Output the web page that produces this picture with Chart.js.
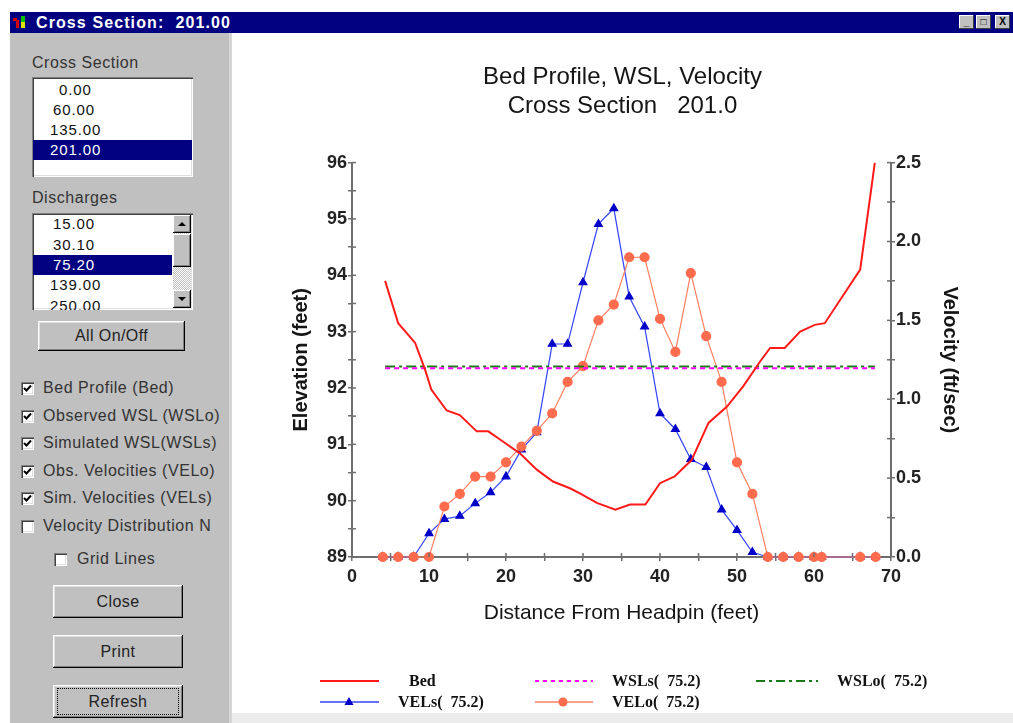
<!DOCTYPE html>
<html>
<head>
<meta charset="utf-8">
<title>Cross Section: 201.00</title>
<script src="https://cdn.jsdelivr.net/npm/chart.js@4.4.0/dist/chart.umd.min.js"></script>
<style>
body { margin:0; width:1013px; height:723px; overflow:hidden; background:#fff; position:relative; font-family:Arial, "Liberation Sans", sans-serif; }
.abs { position:absolute; }
#titlebar { left:10px; top:12px; width:1003px; height:21px; background:#000080; }
#titletext { left:36px; top:13px; color:#fff; font:bold 16px Arial; white-space:pre; line-height:20px; letter-spacing:1.1px; }
.tbtn { top:15px; width:15px; height:14px; background:#c0c0c0; box-shadow:inset -1px -1px #404040, inset 1px 1px #fff; font:bold 10px Arial; text-align:center; line-height:14px; color:#000; }
#panel { left:10px; top:33px; width:219px; height:690px; background:#c0c0c0; }
#edge { left:229px; top:33px; width:3px; height:690px; background:#d6d6d6; }
.lbl { font-size:16px; color:#333; white-space:pre; line-height:18px; letter-spacing:0.55px; }
.listbox { background:#fff; box-shadow:inset 1px 1px #808080, inset 2px 2px #404040, inset -1px -1px #fff, inset -2px -2px #dfdfdf; overflow:hidden; }
.row { position:absolute; height:20px; line-height:20px; font-size:15px; color:#111; white-space:pre; letter-spacing:0.9px; }
.sel { background:#000080; color:#fff; }
.btn { background:#c0c0c0; box-shadow:inset -1px -1px #000, inset 1px 1px #fff, inset -2px -2px #808080, inset 2px 2px #dfdfdf; font-size:16px; text-align:center; color:#222; letter-spacing:0.4px; }
.chk { width:13px; height:13px; background:#fff; box-shadow:inset 1px 1px #808080, inset 2px 2px #404040, inset -1px -1px #fff, inset -2px -2px #dfdfdf; }
.chk svg { position:absolute; left:2px; top:2px; }
.sb { background:#c0c0c0; box-shadow:inset -1px -1px #000, inset 1px 1px #fff, inset -2px -2px #808080; }
.leg { font:bold 16px "Liberation Serif", "Times New Roman", serif; color:#111; white-space:pre; line-height:18px; }
</style>
</head>
<body>

<div id="titlebar" class="abs"></div>
<div class="abs" style="left:13px;top:18px;width:4px;height:3px;background:#d00000"></div>
<div class="abs" style="left:16px;top:20px;width:3px;height:8px;background:#d00000"></div>
<div class="abs" style="left:21px;top:16px;width:4px;height:6px;background:#00c000"></div>
<div class="abs" style="left:21px;top:22px;width:4px;height:6px;background:#e0e000"></div>
<div id="titletext" class="abs">Cross Section:  201.00</div>
<div class="abs tbtn" style="left:959px">_</div>
<div class="abs tbtn" style="left:976px">□</div>
<div class="abs tbtn" style="left:995px">X</div>

<div id="panel" class="abs"></div>
<div id="edge" class="abs"></div>

<div class="abs lbl" style="left:32px;top:54px">Cross Section</div>
<div class="abs listbox" style="left:32px;top:77px;width:161px;height:100px">
  <div class="row" style="left:27px;top:3px">0.00</div>
  <div class="row" style="left:21px;top:23px">60.00</div>
  <div class="row" style="left:18px;top:43px">135.00</div>
  <div class="row sel" style="left:1px;top:63px;width:159px;padding-left:17px;box-sizing:border-box">201.00</div>
</div>

<div class="abs lbl" style="left:32px;top:189px">Discharges</div>
<div class="abs listbox" style="left:32px;top:213px;width:161px;height:97px">
  <div class="row" style="left:21px;top:1px">15.00</div>
  <div class="row" style="left:21px;top:22px">30.10</div>
  <div class="row sel" style="left:1px;top:42px;width:139px;padding-left:20px;box-sizing:border-box">75.20</div>
  <div class="row" style="left:18px;top:62px">139.00</div>
  <div class="row" style="left:18px;top:83px">250.00</div>
  <div class="abs" style="left:141px;top:2px;width:18px;height:93px;background:repeating-conic-gradient(#c0c0c0 0 25%, #fff 0 50%) 0 0/2px 2px"></div>
  <div class="abs sb" style="left:141px;top:2px;width:18px;height:18px"><svg width="18" height="18"><path d="M5 11 L9 7 L13 11 Z" fill="#000"/></svg></div>
  <div class="abs sb" style="left:141px;top:21px;width:18px;height:33px"></div>
  <div class="abs sb" style="left:141px;top:77px;width:18px;height:18px"><svg width="18" height="18"><path d="M5 7 L9 11 L13 7 Z" fill="#000"/></svg></div>
</div>

<div class="abs btn" style="left:38px;top:321px;width:147px;height:30px;line-height:30px">All On/Off</div>

<div class="abs chk" style="left:21px;top:382px"><svg width="9" height="9"><path d="M1 4 L3.5 6.5 L8 1.5" stroke="#000" stroke-width="2" fill="none"/></svg></div>
<div class="abs lbl" style="left:43px;top:379px">Bed Profile (Bed)</div>
<div class="abs chk" style="left:21px;top:410px"><svg width="9" height="9"><path d="M1 4 L3.5 6.5 L8 1.5" stroke="#000" stroke-width="2" fill="none"/></svg></div>
<div class="abs lbl" style="left:43px;top:407px">Observed WSL (WSLo)</div>
<div class="abs chk" style="left:21px;top:437px"><svg width="9" height="9"><path d="M1 4 L3.5 6.5 L8 1.5" stroke="#000" stroke-width="2" fill="none"/></svg></div>
<div class="abs lbl" style="left:43px;top:434px">Simulated WSL(WSLs)</div>
<div class="abs chk" style="left:21px;top:465px"><svg width="9" height="9"><path d="M1 4 L3.5 6.5 L8 1.5" stroke="#000" stroke-width="2" fill="none"/></svg></div>
<div class="abs lbl" style="left:43px;top:462px">Obs. Velocities (VELo)</div>
<div class="abs chk" style="left:21px;top:492px"><svg width="9" height="9"><path d="M1 4 L3.5 6.5 L8 1.5" stroke="#000" stroke-width="2" fill="none"/></svg></div>
<div class="abs lbl" style="left:43px;top:489px">Sim. Velocities (VELs)</div>
<div class="abs chk" style="left:21px;top:520px"></div>
<div class="abs lbl" style="left:43px;top:517px">Velocity Distribution N</div>
<div class="abs chk" style="left:54px;top:553px"></div>
<div class="abs lbl" style="left:77px;top:550px">Grid Lines</div>

<div class="abs btn" style="left:53px;top:585px;width:130px;height:33px;line-height:33px">Close</div>
<div class="abs btn" style="left:53px;top:635px;width:130px;height:33px;line-height:33px">Print</div>
<div class="abs btn" style="left:53px;top:685px;width:130px;height:33px;line-height:33px"><span style="display:inline-block;width:122px;line-height:25px;margin-top:3px;border:1px dotted #000;box-sizing:border-box">Refresh</span></div>

<canvas id="c" width="781" height="679" style="position:absolute;left:232px;top:34px;width:781px;height:679px"></canvas>
<div class="abs" style="left:232px;top:713px;width:781px;height:10px;background:#ececec"></div>

<!-- legend -->
<svg class="abs" style="left:318px;top:674px" width="64" height="14"><line x1="2" y1="7" x2="61" y2="7" stroke="#ff1a1a" stroke-width="2"/></svg>
<div class="abs leg" style="left:409px;top:672px">Bed</div>
<svg class="abs" style="left:533px;top:674px" width="64" height="14"><line x1="2" y1="7" x2="60" y2="7" stroke="#ff00ff" stroke-width="2" stroke-dasharray="4 4"/></svg>
<div class="abs leg" style="left:612px;top:672px">WSLs(  75.2)</div>
<svg class="abs" style="left:754px;top:674px" width="68" height="14"><line x1="2" y1="7" x2="64" y2="7" stroke="#1a7a1a" stroke-width="2" stroke-dasharray="9 4 3 4"/></svg>
<div class="abs leg" style="left:837px;top:672px">WSLo(  75.2)</div>
<svg class="abs" style="left:318px;top:695px" width="64" height="14"><line x1="2" y1="7" x2="61" y2="7" stroke="#3344ff" stroke-width="1.5"/><path d="M31 2 L35.5 10 L26.5 10 Z" fill="#0000c8"/></svg>
<div class="abs leg" style="left:398px;top:693px">VELs(  75.2)</div>
<svg class="abs" style="left:533px;top:695px" width="64" height="14"><line x1="2" y1="7" x2="60" y2="7" stroke="#ff7f60" stroke-width="1.5"/><circle cx="30" cy="7" r="4.5" fill="#ff6b4d"/></svg>
<div class="abs leg" style="left:612px;top:693px">VELo(  75.2)</div>

<script>
// bed profile (distance, elevation)
var bedDist = [4.3, 6.0, 8.2, 9.5, 10.3, 12.3, 14.0, 16.2, 17.7, 19.6, 21.8, 24.0, 26.1, 28.3, 29.6, 31.8, 34.2, 36.1, 38.1, 40.0, 41.9, 44.1, 46.3, 48.7, 50.8, 53.0, 54.3, 56.2, 58.2, 60.1, 61.4, 66.0, 67.9];
var bedElev = [93.9, 93.15, 92.8, 92.32, 91.97, 91.6, 91.52, 91.23, 91.23, 91.05, 90.84, 90.55, 90.34, 90.22, 90.13, 89.96, 89.84, 89.93, 89.93, 90.31, 90.43, 90.72, 91.38, 91.67, 92.03, 92.47, 92.71, 92.71, 93.0, 93.12, 93.15, 94.1, 96.0];

// water surface levels
var wslDist = [4.3, 67.9];
var wslS = [92.35, 92.35];
var wslO = [92.38, 92.38];

// velocities (ft/sec)
var velDist = [4, 6, 8, 10, 12, 14, 16, 18, 20, 22, 24, 26, 28, 30, 32, 34, 36, 38, 40, 42, 44, 46, 48, 50, 52, 54, 56, 58, 60, 61, 66, 68];
var velO = [0, 0, 0, 0, 0.32, 0.40, 0.51, 0.51, 0.60, 0.70, 0.80, 0.91, 1.11, 1.21, 1.50, 1.60, 1.90, 1.90, 1.51, 1.30, 1.80, 1.40, 1.11, 0.60, 0.40, 0, 0, 0, 0, 0, 0, 0];
var velS = [0, 0, 0, 0.15, 0.24, 0.26, 0.34, 0.41, 0.51, 0.68, 0.79, 1.35, 1.35, 1.74, 2.11, 2.21, 1.65, 1.46, 0.91, 0.81, 0.62, 0.57, 0.30, 0.17, 0.03, 0, 0, 0, 0, 0, 0, 0];

var titleLines = ['Bed Profile, WSL, Velocity', 'Cross Section   201.0'];

function pts(xs, ys) {
  return xs.map(function (x, i) { return {x: x, y: ys[i]}; });
}

var axisGrey = '#6e6e6e';
var tickFont = {family: 'Arial', size: 18, weight: 'bold'};
var axisTitleFont = {family: 'Arial', size: 20, weight: 'bold'};

// the old program drew its tick marks across the axis line, so add the inner half
var innerTicks = {
  id: 'innerTicks',
  afterDraw: function (chart) {
    var c = chart.ctx, a = chart.chartArea;
    c.save();
    c.strokeStyle = axisGrey;
    c.lineWidth = 1.5;
    chart.scales.x.ticks.forEach(function (t) {
      var p = chart.scales.x.getPixelForValue(t.value);
      c.beginPath(); c.moveTo(p, a.bottom); c.lineTo(p, a.bottom - 4); c.stroke();
    });
    chart.scales.y.ticks.forEach(function (t) {
      var p = chart.scales.y.getPixelForValue(t.value);
      c.beginPath(); c.moveTo(a.left, p); c.lineTo(a.left + 4, p); c.stroke();
    });
    chart.scales.y1.ticks.forEach(function (t) {
      var p = chart.scales.y1.getPixelForValue(t.value);
      c.beginPath(); c.moveTo(a.right, p); c.lineTo(a.right - 4, p); c.stroke();
    });
    c.restore();
  }
};

var ctx = document.getElementById('c').getContext('2d');
var chart = new Chart(ctx, {
  type: 'line',
  data: {
    datasets: [
      {label: 'Bed', data: pts(bedDist, bedElev), yAxisID: 'y', borderColor: '#ff1a1a', borderWidth: 2, pointRadius: 0, order: 1},
      {label: 'WSLs( 75.2)', data: pts(wslDist, wslS), yAxisID: 'y', borderColor: '#ff00ff', borderWidth: 2, borderDash: [5, 4], pointRadius: 0, order: 2},
      {label: 'WSLo( 75.2)', data: pts(wslDist, wslO), yAxisID: 'y', borderColor: '#1a7a1a', borderWidth: 2, borderDash: [10, 4, 3, 4], pointRadius: 0, order: 3},
      {label: 'VELo( 75.2)', data: pts(velDist, velO), yAxisID: 'y1', borderColor: '#ff7f60', borderWidth: 1.2,
       pointStyle: 'circle', pointRadius: 4.5, pointBackgroundColor: '#ff6b4d', pointBorderColor: '#ff6b4d', clip: false, order: 4},
      {label: 'VELs( 75.2)', data: pts(velDist, velS), yAxisID: 'y1', borderColor: '#3344ff', borderWidth: 1.2,
       pointStyle: 'triangle', pointRadius: 4.5, pointBackgroundColor: '#0000c8', pointBorderColor: '#0000c8', clip: false, order: 5}
    ]
  },
  options: {
    responsive: false,
    animation: false,
    layout: {padding: {left: 0, right: 0, top: 0, bottom: 46}},
    plugins: {
      legend: {display: false},
      tooltip: {enabled: false},
      title: {
        display: true,
        text: titleLines,
        color: '#151515',
        font: {family: 'Arial', size: 24, weight: 'normal', lineHeight: 1.2},
        padding: {top: 29, bottom: 42}
      }
    },
    scales: {
      x: {
        type: 'linear', position: 'bottom', min: 0, max: 70,
        ticks: {stepSize: 5, autoSkip: false, maxRotation: 0, padding: 5, color: '#222', font: tickFont,
                callback: function (v) { return v % 10 === 0 ? v : ''; }},
        grid: {drawOnChartArea: false, tickLength: 4, lineWidth: 1.5, color: axisGrey},
        border: {color: axisGrey, width: 2},
        title: {display: true, text: 'Distance From Headpin (feet)', color: '#151515',
                font: {family: 'Arial', size: 21, weight: 'normal'}, padding: {top: 0, bottom: 41}},
        afterFit: function (s) { s.height = 110; }
      },
      y: {
        type: 'linear', position: 'left', min: 89, max: 96,
        ticks: {stepSize: 0.5, autoSkip: false, padding: 1, color: '#222', font: tickFont,
                callback: function (v) { return Number.isInteger(v) ? v : ''; }},
        grid: {drawOnChartArea: false, tickLength: 4, lineWidth: 1.5, color: axisGrey},
        border: {color: axisGrey, width: 2},
        title: {display: true, text: 'Elevation (feet)', color: '#151515',
                font: axisTitleFont, padding: {top: 57, bottom: 0}},
        afterFit: function (s) { s.width = 120; }
      },
      y1: {
        type: 'linear', position: 'right', min: 0, max: 2.5,
        ticks: {stepSize: 0.25, autoSkip: false, padding: 1, color: '#222', font: tickFont,
                callback: function (v) { return Math.abs(v * 2 - Math.round(v * 2)) < 1e-6 ? v.toFixed(1) : ''; }},
        grid: {drawOnChartArea: false, tickLength: 4, lineWidth: 1.5, color: axisGrey},
        border: {color: axisGrey, width: 2},
        title: {display: true, text: 'Velocity (ft/sec)', color: '#151515',
                font: axisTitleFont, padding: {top: 51, bottom: 0}},
        afterFit: function (s) { s.width = 122; }
      }
    }
  },
  plugins: [innerTicks]
});
</script>
</body>
</html>
